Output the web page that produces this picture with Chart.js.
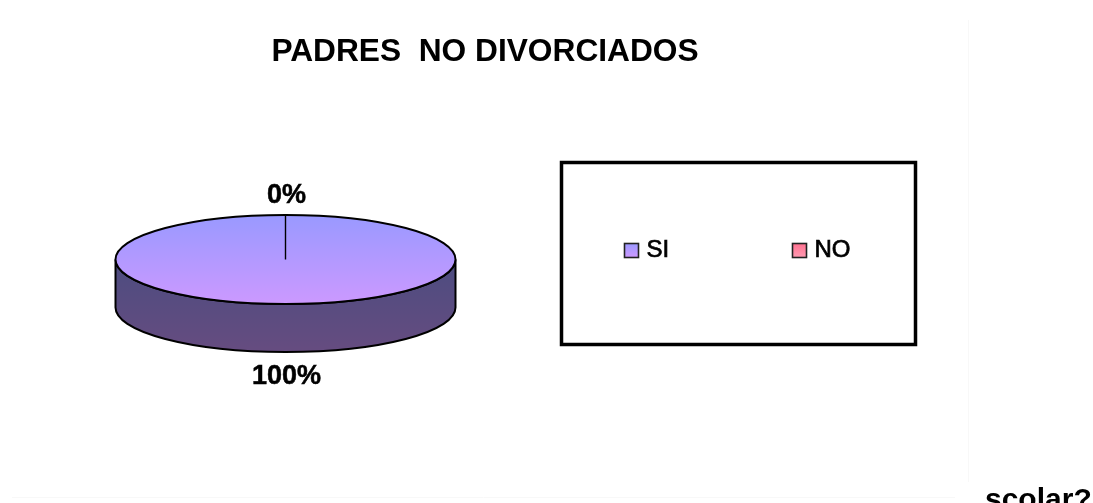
<!DOCTYPE html>
<html><head><meta charset="utf-8">
<style>html,body{margin:0;padding:0;background:#fff}canvas{display:block}</style>
<script src="https://cdn.jsdelivr.net/npm/chart.js@4"></script>
</head><body><canvas id="c" width="1093" height="503"></canvas>
<script>
const chartTitle = 'PADRES  NO DIVORCIADOS';
const categories = ['SI', 'NO'];
const seriesValues = [100, 0];
const strayText = 'scolar?';
const FONT = '"Liberation Sans", Arial, sans-serif';
const SQUASH = 44.5 / 170, DEPTH = 48;

const fills = [['#9999FF', '#CC99FF'], ['#FF6F8F', '#FF99B0']];
const sideFill = ['#4C4C80', '#664C80'];

function vGrad(ctx, y0, y1, pair) {
  const g = ctx.createLinearGradient(0, y0, 0, y1);
  g.addColorStop(0, pair[0]); g.addColorStop(1, pair[1]);
  return g;
}

const pie3d = {
  id: 'pie3d',
  afterLayout(chart) {
    chart.titleBlock.left = 0;
    chart.titleBlock.right = 970;
  },
  beforeDraw(chart) {
    const c = chart.ctx;
    c.save();
    c.strokeStyle = '#f8f8f8'; c.lineWidth = 1;
    c.beginPath();
    c.moveTo(968.5, 20); c.lineTo(968.5, 482);
    c.moveTo(12, 497.5); c.lineTo(955, 497.5);
    c.stroke();
    c.restore();
  },
  beforeDatasetsDraw(chart) {
    const c = chart.ctx;
    const a = chart.getDatasetMeta(0).data[0];
    const cx = a.x, cy = a.y, rx = a.outerRadius, ry = rx * SQUASH;
    c.save();
    c.beginPath();
    c.moveTo(cx - rx, cy);
    c.lineTo(cx - rx, cy + DEPTH);
    c.ellipse(cx, cy + DEPTH, rx, ry, 0, Math.PI, 0, true);
    c.lineTo(cx + rx, cy);
    c.ellipse(cx, cy, rx, ry, 0, 0, Math.PI, false);
    c.closePath();
    c.fillStyle = vGrad(c, cy, cy + ry + DEPTH, sideFill);
    c.fill();
    c.strokeStyle = '#000'; c.lineWidth = 2;
    c.stroke();
    c.restore();
    c.save();
    c.translate(cx, cy); c.scale(1, SQUASH); c.translate(-cx, -cy);
  },
  afterDatasetsDraw(chart) {
    const c = chart.ctx;
    c.restore();
    const arcs = chart.getDatasetMeta(0).data;
    const cx = arcs[0].x, cy = arcs[0].y, rx = arcs[0].outerRadius, ry = rx * SQUASH;
    c.save();
    c.strokeStyle = '#000'; c.lineWidth = 2;
    c.beginPath(); c.ellipse(cx, cy, rx, ry, 0, 0, Math.PI * 2); c.stroke();
    c.lineWidth = 1.4;
    arcs.forEach(a => {
      if (a.circumference > 0) {
        c.beginPath(); c.moveTo(cx, cy);
        c.lineTo(cx + rx * Math.cos(a.startAngle), cy + ry * Math.sin(a.startAngle));
        c.stroke();
      }
    });
    // percentage labels
    const total = seriesValues.reduce((s, v) => s + v, 0);
    c.fillStyle = '#000'; c.strokeStyle = '#000'; c.lineWidth = 0.5;
    c.font = 'bold 27px ' + FONT;
    c.textAlign = 'center'; c.textBaseline = 'middle';
    arcs.forEach((a, i) => {
      const mid = a.startAngle + a.circumference / 2;
      const sin = Math.sin(mid);
      const y = cy + ry * sin + (sin > 0 ? DEPTH + 25 : -19);
      const x = cx + rx * Math.cos(mid) + 1;
      const txt = Math.round(seriesValues[i] / total * 100) + '%';
      c.fillText(txt, x, y);
      c.strokeText(txt, x, y);
    });
    c.restore();
  },
  afterDraw(chart) {
    const c = chart.ctx;
    c.save();
    // legend frame
    c.strokeStyle = '#000'; c.lineWidth = 3.5;
    c.strokeRect(561.5, 162.5, 354, 182);
    // legend entries
    const xs = [624.5, 792.5];
    c.font = '24px ' + FONT;
    c.textAlign = 'left'; c.textBaseline = 'middle';
    categories.forEach((label, i) => {
      c.fillStyle = vGrad(c, 243, 257, fills[i]);
      c.fillRect(xs[i], 243.5, 14, 14);
      c.strokeStyle = '#222'; c.lineWidth = 1.6;
      c.strokeRect(xs[i], 243.5, 14, 14);
      c.fillStyle = '#000'; c.strokeStyle = '#000'; c.lineWidth = 0.7;
      c.fillText(label, xs[i] + 22, 250);
      c.strokeText(label, xs[i] + 22, 250);
    });
    // clipped text from the surrounding page
    c.font = 'bold 30px ' + FONT;
    c.textBaseline = 'alphabetic';
    c.fillText(strayText, 985, 509);
    c.restore();
  }
};

new Chart(document.getElementById('c'), {
  type: 'pie',
  data: {
    labels: categories,
    datasets: [{
      data: seriesValues,
      clip: false,
      borderWidth: 0,
      backgroundColor(ctx) {
        const area = ctx.chart.chartArea;
        if (!area) return fills[ctx.dataIndex][0];
        return vGrad(ctx.chart.ctx, area.top, area.bottom, fills[ctx.dataIndex]);
      }
    }]
  },
  options: {
    responsive: false,
    animation: false,
    rotation: 0,
    layout: { padding: { left: 115.5, right: 637.5, top: 0, bottom: 73.5 } },
    plugins: {
      legend: { display: false },
      tooltip: { enabled: false },
      title: {
        display: true,
        text: chartTitle,
        color: '#000',
        font: { family: FONT, size: 31.7, weight: 'bold', lineHeight: 1.2 },
        padding: { top: 33, bottom: 18.46 }
      }
    }
  },
  plugins: [pie3d]
});
</script></body></html>
